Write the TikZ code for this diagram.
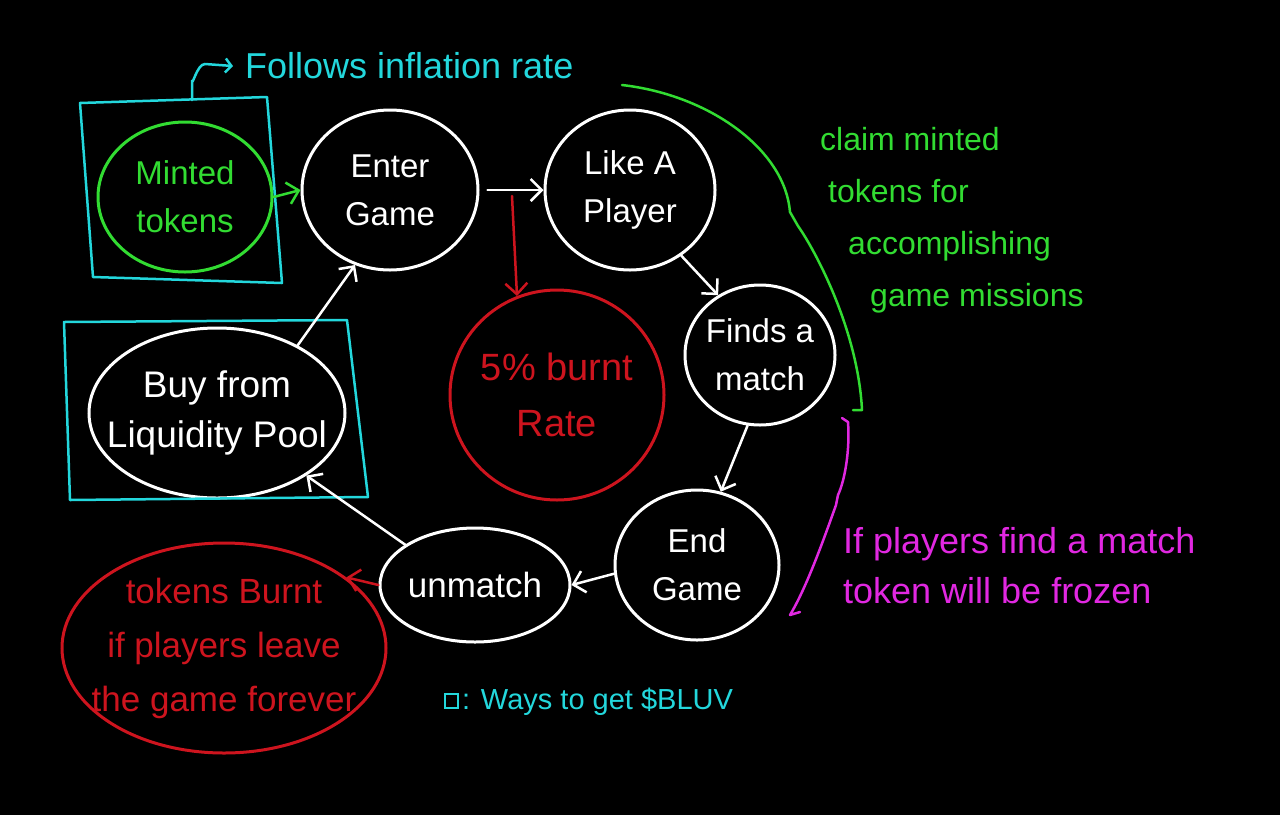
\documentclass[tikz,border=0pt]{standalone}
\usepackage{fontspec}
\setmainfont{Liberation Sans}
\usetikzlibrary{shapes.geometric,arrows.meta}
\definecolor{cy}{RGB}{35,215,220}
\definecolor{gr}{RGB}{50,220,50}
\definecolor{rd}{RGB}{205,20,30}
\definecolor{mg}{RGB}{225,40,225}
\begin{document}
\begin{tikzpicture}[x=1pt,y=-1pt,
  circ/.style={ellipse, draw=white, line width=3pt, text=white, align=center,
    inner sep=-30pt, font=\fontsize{33}{48}\selectfont},
  arr/.style={-{Straight Barb[length=11pt,width=22pt,line width=2.5pt]}, line width=2.5pt, line cap=round},
  note/.style={anchor=west, align=left, inner sep=0pt, font=\fontsize{32}{52}\selectfont},
  hand/.style={line width=2.5pt, line cap=round, line join=round}]
\fill[black] (0,0) rectangle (1280,815);
\useasboundingbox (0,0) rectangle (1280,815);

% nodes
\node[circ, draw=gr, text=gr, minimum width=174pt, minimum height=150pt] (mt) at (185,197) {Minted\\tokens};
\node[circ, minimum width=176pt, minimum height=160pt] (eg) at (390,190) {Enter\\Game};
\node[circ, minimum width=170pt, minimum height=160pt] (lp) at (630,190) {Like A\\Player};
\node[circ, minimum width=150pt, minimum height=140pt] (fm) at (760,355) {Finds a\\match};
\node[circ, minimum width=164pt, minimum height=150pt] (end) at (697,565) {End\\Game};
\node[circ, minimum width=190pt, minimum height=114pt, font=\fontsize{35}{48}\selectfont] (um) at (475,585) {unmatch};
\node[circ, minimum width=256pt, minimum height=170pt, font=\fontsize{37}{50}\selectfont] (buy) at (217,413) {Buy from\\Liquidity Pool};
\node[circ, draw=rd, text=rd, minimum width=214pt, minimum height=210pt,
  font=\fontsize{38}{56}\selectfont] (burnt) at (557,395) {5\% burnt\\Rate};
\node[circ, draw=rd, text=rd, minimum width=324pt, minimum height=210pt,
  font=\fontsize{35}{54}\selectfont] (tb) at (224,648) {tokens Burnt\\if players leave\\the game forever};

% cyan boxes
\draw[cy, hand] (80,103) -- (267,97) -- (282,283) -- (93,277) -- cycle;
\draw[cy, hand] (64,322) -- (347,320) -- (368,497) -- (70,500) -- cycle;
\coordinate (b1top) at (192,100);
\node[note, text=cy, font=\fontsize{36}{40}\selectfont] (fol) at (245,66) {Follows inflation rate};
\draw[cy, arr, -{Straight Barb[length=6pt,width=14pt,line width=2.5pt]}] (b1top) -- (192,80) to[out=-90,in=180] (205,64) -- ([xshift=-12pt]fol.west);

% arrows
\draw[gr, arr] (mt.east) -- (eg.west);
\draw[white, arr] ([xshift=8pt]eg.east) -- (lp.west);
\coordinate (rs) at (512,196);
\draw[rd, arr] (rs) -- (burnt.112);
\draw[white, arr] (lp.-52) -- (fm.125);
\draw[white, arr] (fm.-100) -- (end.72);
\draw[white, arr] (end.186) -- (um.east);
\draw[white, arr] (um.150) -- (buy.-35);
\draw[white, arr] (buy.40) -- (eg.-115);
\draw[rd, arr] (um.west) -- (tb.30);

% green bracket and text
\draw[gr, hand] (622,85) .. controls (710,95) and (785,150) .. (790,212)
  -- (798,226) .. controls (815,250) and (858,330) .. (862,410) -- (853,410);
\node[note, text=gr] (claim) at (820,220) {claim minted\\\hspace*{8pt}tokens for\\\hspace*{28pt}accomplishing\\\hspace*{50pt}game missions};

% magenta bracket and text
\draw[mg, hand] (842,418) -- (848,422) .. controls (850,450) and (845,480) .. (838,495)
  -- (836,505) .. controls (820,550) and (805,590) .. (790,615) -- (800,612);
\node[note, text=mg, font=\fontsize{36}{52}\selectfont] (frz) at (843,566) {If players find a match\\[-2pt]token will be frozen};

% legend
\draw[cy, line width=2pt] (445,694) rectangle (458,708);
\node[note, text=cy, font=\fontsize{29}{32}\selectfont] (leg) at (462,702) {: Ways to get \$BLUV};
\end{tikzpicture}
\end{document}
